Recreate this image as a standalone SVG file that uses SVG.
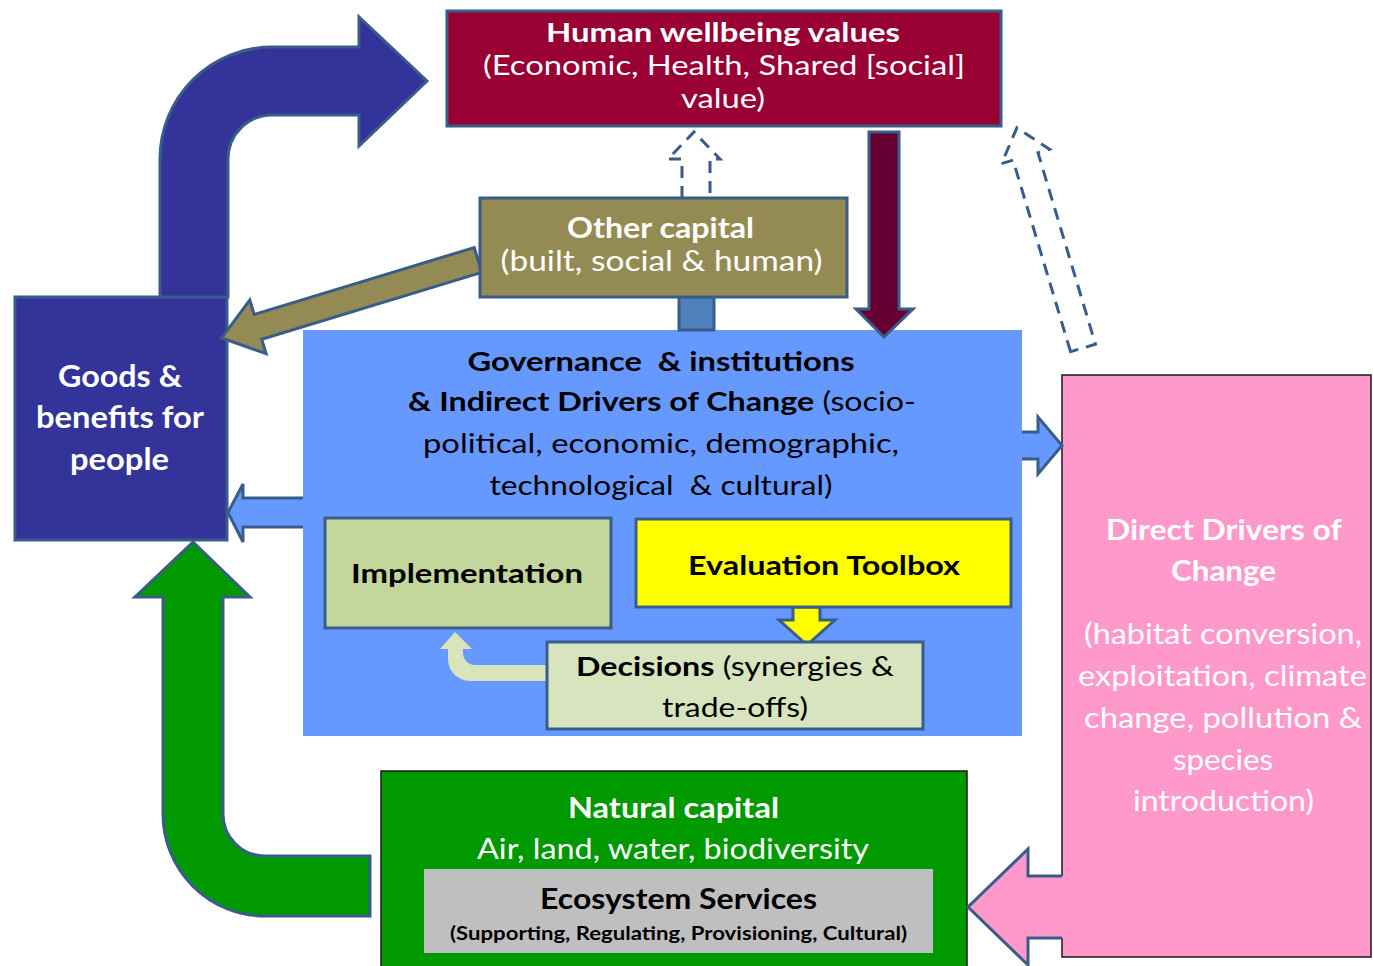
<svg xmlns="http://www.w3.org/2000/svg" width="1373" height="966" viewBox="0 0 1373 966">
  <style>
    text { font-family: Lato, "Open Sans", "Liberation Sans", sans-serif; text-anchor: middle; }
    .box { stroke: #385D8A; stroke-width: 3; }
    .thin { stroke: #1a1a1a; stroke-width: 1.5; }
    .w { fill: #ffffff; }
    .k { fill: #000000; }
    .b { font-weight: bold; }
    .n { font-weight: normal; }
    .arrow { stroke: #385D8A; stroke-width: 3; stroke-linejoin: miter; }
    .dash { fill: none; stroke: #385D8A; stroke-width: 3; stroke-dasharray: 12 8; }
  </style>

  <!-- Governance / institutions panel -->
  <g id="governance" class="k">
    <rect x="303" y="330" width="719" height="406" fill="#6699FF"/>
    <text class="b" font-size="27" x="661" y="371" xml:space="preserve" textLength="387" lengthAdjust="spacingAndGlyphs">Governance  &amp; institutions</text>
    <text font-size="27" x="662" y="411" textLength="508" lengthAdjust="spacingAndGlyphs"><tspan class="b">&amp; Indirect Drivers of Change</tspan> (socio-</text>
    <text font-size="27" x="661" y="453" textLength="476" lengthAdjust="spacingAndGlyphs">political, economic, demographic,</text>
    <text font-size="27" x="661" y="495" xml:space="preserve" textLength="343" lengthAdjust="spacingAndGlyphs">technological  &amp; cultural)</text>
  </g>

  <!-- Goods & benefits -->
  <g id="goods" class="w">
    <rect class="box" x="15" y="297" width="212" height="243" fill="#333399"/>
    <text class="b" font-size="30" x="120" y="387" textLength="124" lengthAdjust="spacingAndGlyphs">Goods &amp;</text>
    <text class="b" font-size="30" x="120" y="428" textLength="168" lengthAdjust="spacingAndGlyphs">benefits for</text>
    <text class="b" font-size="30" x="119.5" y="470" textLength="99" lengthAdjust="spacingAndGlyphs">people</text>
  </g>

  <!-- Human wellbeing values -->
  <g id="human-wellbeing" class="w">
    <rect class="box" x="447" y="11" width="554" height="115" fill="#990033"/>
    <text class="b" font-size="27" x="723" y="42" textLength="354" lengthAdjust="spacingAndGlyphs">Human wellbeing values</text>
    <text font-size="27" x="724" y="75" textLength="482" lengthAdjust="spacingAndGlyphs">(Economic, Health, Shared [social]</text>
    <text font-size="27" x="723" y="108" textLength="84" lengthAdjust="spacingAndGlyphs">value)</text>
  </g>

  <!-- Direct drivers of change -->
  <g id="direct-drivers" class="w">
    <rect class="thin" x="1062" y="375" width="309" height="582" fill="#FF99CC"/>
    <text class="b" font-size="28" x="1224" y="540" textLength="236" lengthAdjust="spacingAndGlyphs">Direct Drivers of</text>
    <text class="b" font-size="28" x="1223.5" y="581" textLength="105" lengthAdjust="spacingAndGlyphs">Change</text>
    <text font-size="28" x="1223" y="644" textLength="278" lengthAdjust="spacingAndGlyphs">(habitat conversion,</text>
    <text font-size="28" x="1222.5" y="686" textLength="289" lengthAdjust="spacingAndGlyphs">exploitation, climate</text>
    <text font-size="28" x="1223" y="728" textLength="278" lengthAdjust="spacingAndGlyphs">change, pollution &amp;</text>
    <text font-size="28" x="1223" y="770" textLength="100" lengthAdjust="spacingAndGlyphs">species</text>
    <text font-size="28" x="1223.5" y="811" textLength="181" lengthAdjust="spacingAndGlyphs">introduction)</text>
  </g>

  <!-- Natural capital with ecosystem services -->
  <g id="natural-capital">
    <rect class="thin" x="381" y="771" width="586" height="200" fill="#009900"/>
    <text class="w b" font-size="28" x="673.5" y="818" textLength="211" lengthAdjust="spacingAndGlyphs">Natural capital</text>
    <text class="w" font-size="28" x="673" y="859" textLength="392" lengthAdjust="spacingAndGlyphs">Air, land, water, biodiversity</text>
    <rect x="424" y="869" width="509" height="84" fill="#BFBFBF"/>
    <text class="k b" font-size="28" x="678.5" y="909" textLength="277" lengthAdjust="spacingAndGlyphs">Ecosystem Services</text>
    <text class="k b" font-size="18" x="678.5" y="940" textLength="457" lengthAdjust="spacingAndGlyphs">(Supporting, Regulating, Provisioning, Cultural)</text>
  </g>

  <g id="connectors">
    <!-- goods -> human wellbeing (bent) -->
    <path class="arrow" fill="#333399" d="M160 297 L160 159 A112 112 0 0 1 272 47 L359 47 L359 17 L427 81 L359 146 L359 115 L272 115 A44 44 0 0 0 228 159 L228 297 Z"/>
    <!-- natural capital -> goods (bent) -->
    <path class="arrow" fill="#009900" d="M370 856 L265 856 A42 42 0 0 1 223 814 L223 597 L250 597 L193 542 L135 597 L163 597 L163 814 A102 102 0 0 0 265 916 L370 916 Z"/>
    <!-- other capital -> goods -->
    <polygon class="arrow" fill="#948A54" transform="translate(478,260) rotate(163.1)" points="0,-13 230,-13 230,-28 268,0 230,28 230,13 0,13"/>
    <!-- human wellbeing -> governance -->
    <path class="arrow" fill="#660033" d="M869 132 L899 132 L899 309 L913 309 L884 337 L856 309 L869 309 Z"/>
    <!-- other capital -> human wellbeing (dashed) -->
    <path class="dash" d="M682 198 L682 159 L668 159 L694 132 L720 159 L710 159 L710 198"/>
    <!-- direct drivers -> human wellbeing (dashed) -->
    <polygon class="dash" transform="translate(1083,348) rotate(-16.7)" points="-13,0 -13,-200 -25,-200 0,-230 25,-200 13,-200 13,0"/>
    <!-- other capital / governance link -->
    <rect class="box" x="679" y="297" width="35" height="33" fill="#4F81BD"/>
    <!-- governance -> goods -->
    <polygon fill="#6699FF" points="305,498 243,498 243,484 228,512.5 243,542 243,527 305,527"/>
    <path class="arrow" fill="none" d="M303 498 L243 498 L243 484 L228 512.5 L243 542 L243 527 L303 527"/>
    <!-- governance -> direct drivers -->
    <polygon fill="#6699FF" points="1020,432 1038,432 1038,417 1062,445.5 1038,474 1038,459 1020,459"/>
    <path class="arrow" fill="none" d="M1022 432 L1038 432 L1038 417 L1062 445.5 L1038 474 L1038 459 L1022 459"/>
    <!-- direct drivers -> natural capital -->
    <polygon fill="#FF99CC" points="1064,876 1028,876 1028,849 968,907 1028,965 1028,938 1064,938"/>
    <path class="arrow" fill="none" d="M1062 876 L1028 876 L1028 849 L968 907 L1028 965 L1028 938 L1062 938"/>
    <!-- decisions -> implementation -->
    <path fill="#D8E4BC" d="M547 665 L475 665 A12 12 0 0 1 463 653 L463 649 L472 649 L455 632 L440 649 L448 649 L448 659 A22 22 0 0 0 470 681 L547 681 Z"/>
    <!-- evaluation toolbox -> decisions -->
    <path class="arrow" fill="#FFFF00" d="M793 607 L820 607 L820 620 L835 620 L807 645 L779 620 L793 620 Z"/>
  </g>

  <!-- Other capital -->
  <g id="other-capital" class="w">
    <rect class="box" x="480" y="198" width="367" height="99" fill="#948A54"/>
    <text class="b" font-size="28" x="660.5" y="238" textLength="187" lengthAdjust="spacingAndGlyphs">Other capital</text>
    <text font-size="28" x="661.5" y="271" textLength="322" lengthAdjust="spacingAndGlyphs">(built, social &amp; human)</text>
  </g>

  <!-- Implementation -->
  <g id="implementation" class="k">
    <rect class="box" x="325" y="518" width="286" height="110" fill="#C3D69B"/>
    <text class="b" font-size="27" x="467" y="583" textLength="232" lengthAdjust="spacingAndGlyphs">Implementation</text>
  </g>

  <!-- Evaluation toolbox -->
  <g id="evaluation" class="k">
    <rect class="box" x="636" y="519" width="375" height="88" fill="#FFFF00"/>
    <text class="b" font-size="27" x="824" y="575" textLength="272" lengthAdjust="spacingAndGlyphs">Evaluation Toolbox</text>
  </g>

  <!-- Decisions -->
  <g id="decisions" class="k">
    <rect class="box" x="547" y="642" width="376" height="87" fill="#D7E4BD"/>
    <text font-size="27" x="735" y="676" textLength="318" lengthAdjust="spacingAndGlyphs"><tspan class="b">Decisions</tspan> (synergies &amp;</text>
    <text font-size="27" x="735" y="717" textLength="146" lengthAdjust="spacingAndGlyphs">trade-offs)</text>
  </g>
</svg>
